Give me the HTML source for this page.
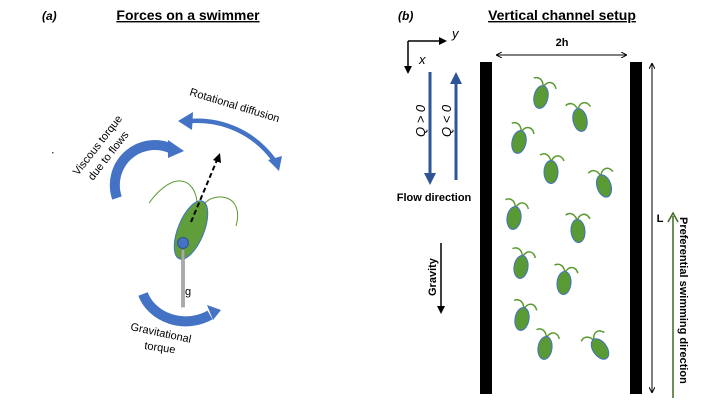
<!DOCTYPE html>
<html><head><meta charset="utf-8"><style>
html,body{margin:0;padding:0;background:#fff}
svg{display:block}
text{font-family:"Liberation Sans",sans-serif}
</style></head><body>
<svg width="720" height="405" viewBox="0 0 720 405" xmlns="http://www.w3.org/2000/svg">
<defs>
<g id="sw">
<path d="M0,-10 C-1,-17 -6,-20 -11,-17" fill="none" stroke="#5a9a30" stroke-width="1.5"/>
<path d="M0,-10 C3,-18 10,-18 13,-11" fill="none" stroke="#5a9a30" stroke-width="1.5"/>
<ellipse cx="0" cy="0" rx="7" ry="11.5" fill="#5a9a35" stroke="#4472c4" stroke-width="1"/>
</g>
<marker id="ab" markerWidth="8" markerHeight="8" refX="6" refY="4" orient="auto" markerUnits="userSpaceOnUse"><path d="M0,0 L8,4 L0,8 z" fill="#000"/></marker>
<marker id="ab2" markerWidth="6" markerHeight="6" refX="6" refY="3" orient="auto-start-reverse" markerUnits="userSpaceOnUse"><path d="M0,0 L6,3 L0,6" fill="none" stroke="#000" stroke-width="1"/></marker>
</defs>

<text x="42" y="20" font-family="Liberation Serif" font-style="italic" font-weight="bold" font-size="12">(a)</text>
<text x="188" y="20" text-anchor="middle" font-weight="bold" font-size="14" text-decoration="underline">Forces on a swimmer</text>
<rect x="52" y="152" width="1.5" height="1.5" fill="#555"/>

<path d="M117,198 A40,40 0 0 1 170,148" fill="none" stroke="#4472c4" stroke-width="10"/>
<path d="M168,140 L184,151 L168,158 z" fill="#4472c4"/>
<text transform="translate(78,176) rotate(-52)" font-size="11">Viscous torque</text>
<text transform="translate(93,181) rotate(-52)" font-size="11">due to flows</text>

<path d="M190,121 A95,95 0 0 1 274,160" fill="none" stroke="#4472c4" stroke-width="4.5"/>
<path d="M178,121 L193,112 L192,130 z" fill="#4472c4"/>
<path d="M268,160 L282,156 L279,171 z" fill="#4472c4"/>
<text transform="translate(189,95) rotate(17)" font-size="11">Rotational diffusion</text>

<path d="M197,202 C195,180 175,168 149,203" fill="none" stroke="#5a9a30" stroke-width="1"/>
<path d="M203,205 C215,190 245,195 236,226" fill="none" stroke="#5a9a30" stroke-width="1"/>
<ellipse cx="191" cy="230" rx="13" ry="31" transform="rotate(22 191 230)" fill="#5f9e3a" stroke="#4472c4" stroke-width="1"/>
<line x1="191" y1="222" x2="217" y2="160" stroke="#000" stroke-width="2" stroke-dasharray="5,3"/>
<path d="M220,153 L221,163 L213,160 z" fill="#000"/>
<rect x="181.5" y="250" width="3" height="57" fill="#aaa" stroke="#888" stroke-width="0.5"/>
<circle cx="183" cy="243" r="5.5" fill="#4472c4" stroke="#2f528f" stroke-width="1"/>
<text x="185" y="295" font-size="11">g</text>

<path d="M143,294 A45,40 0 0 0 210,315" fill="none" stroke="#4472c4" stroke-width="10"/>
<path d="M207,305 L221,310 L213,320 z" fill="#4472c4"/>
<text transform="translate(130,330) rotate(12)" font-size="11">Gravitational</text>
<text transform="translate(144,349) rotate(8)" font-size="11">torque</text>

<text x="398" y="20" font-family="Liberation Serif" font-style="italic" font-weight="bold" font-size="12">(b)</text>
<text x="562" y="20" text-anchor="middle" font-weight="bold" font-size="14" text-decoration="underline">Vertical channel setup</text>

<line x1="408" y1="41" x2="445" y2="41" stroke="#000" stroke-width="1.5" marker-end="url(#ab)"/>
<line x1="408" y1="41" x2="408" y2="72" stroke="#000" stroke-width="1.5" marker-end="url(#ab)"/>
<text x="452" y="38" font-family="Liberation Serif" font-style="italic" font-size="13">y</text>
<text x="419" y="64" font-family="Liberation Serif" font-style="italic" font-size="13">x</text>

<line x1="430" y1="72" x2="430" y2="175" stroke="#2f5597" stroke-width="3"/>
<path d="M424,173 L436,173 L430,185 z" fill="#2f5597"/>
<line x1="456" y1="82" x2="456" y2="180" stroke="#2f5597" stroke-width="3"/>
<path d="M450,84 L462,84 L456,72 z" fill="#2f5597"/>
<text transform="translate(425,137) rotate(-90)" font-family="Liberation Serif" font-style="italic" font-size="13">Q &gt; 0</text>
<text transform="translate(451,137) rotate(-90)" font-family="Liberation Serif" font-style="italic" font-size="13">Q &lt; 0</text>
<text x="434" y="201" text-anchor="middle" font-weight="bold" font-size="11">Flow direction</text>

<line x1="441" y1="243" x2="441" y2="312" stroke="#000" stroke-width="1.5" marker-end="url(#ab)"/>
<text transform="translate(436,296) rotate(-90)" font-weight="bold" font-size="11">Gravity</text>

<rect x="480" y="62" width="12" height="332" fill="#000"/>
<rect x="630" y="62" width="12" height="332" fill="#000"/>
<line x1="496" y1="55" x2="627" y2="55" stroke="#000" stroke-width="1" marker-start="url(#ab2)" marker-end="url(#ab2)"/>
<text x="562" y="46" text-anchor="middle" font-weight="bold" font-size="11">2h</text>
<line x1="652" y1="63" x2="652" y2="393" stroke="#000" stroke-width="1" marker-start="url(#ab2)" marker-end="url(#ab2)"/>
<text x="660" y="222" text-anchor="middle" font-weight="bold" font-size="11">L</text>
<line x1="673" y1="398" x2="673" y2="216" stroke="#3d6b20" stroke-width="1.5"/>
<path d="M668,222 L673,213 L678,222" fill="none" stroke="#3d6b20" stroke-width="1.5"/>
<text transform="translate(680,217) rotate(90)" font-weight="bold" font-size="11">Preferential swimming direction</text>

<use href="#sw" transform="translate(541,97) rotate(12)"/>
<use href="#sw" transform="translate(580,120) rotate(-12)"/>
<use href="#sw" transform="translate(519,142) rotate(12)"/>
<use href="#sw" transform="translate(551,172) rotate(0)"/>
<use href="#sw" transform="translate(604,186) rotate(-18)"/>
<use href="#sw" transform="translate(514,218) rotate(8)"/>
<use href="#sw" transform="translate(578,231) rotate(-5)"/>
<use href="#sw" transform="translate(521,267) rotate(8)"/>
<use href="#sw" transform="translate(564,283) rotate(5)"/>
<use href="#sw" transform="translate(522,319) rotate(10)"/>
<use href="#sw" transform="translate(545,348) rotate(8)"/>
<use href="#sw" transform="translate(600,349) rotate(-35)"/>
</svg>
</body></html>
